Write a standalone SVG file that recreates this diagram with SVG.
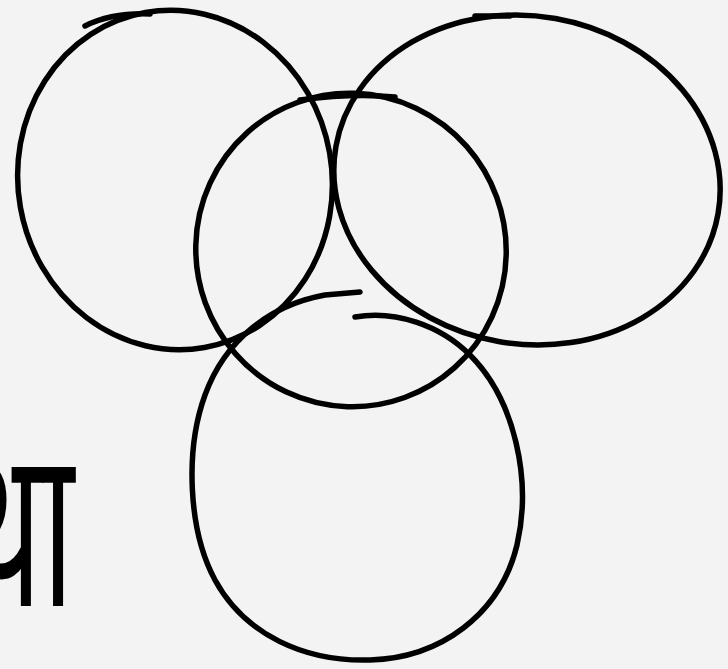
<svg xmlns="http://www.w3.org/2000/svg" width="728" height="669" viewBox="0 0 728 669">
<style>
.s{fill:none;stroke:#000;stroke-width:5.5;stroke-linecap:round;stroke-linejoin:round}
.t{font-family:"Noto Sans","DejaVu Sans",sans-serif;font-size:200px;fill:#000}
</style>
<rect width="728" height="669" fill="#f3f3f3"/>
<g id="circle-top-left">
<ellipse class="s" cx="175" cy="180" rx="157" ry="170" transform="rotate(-10 175 180)"/>
<path class="s" d="M85 26 C105 16 125 13 150 14"/>
</g>
<g id="circle-top-right">
<ellipse class="s" cx="527" cy="180" rx="194" ry="164" transform="rotate(10 527 180)"/>
<path class="s" d="M475 16 L510 16"/>
</g>
<g id="circle-middle">
<ellipse class="s" cx="351" cy="250" rx="155" ry="157" transform="rotate(-20 351 250)"/>
<path class="s" d="M300 100 C330 96 365 94 395 97"/>
</g>
<g id="circle-bottom">
<path class="s" d="M360 292 L325 295 C270 305 225 340 205 395 C185 450 188 530 215 580 C245 635 305 662 370 660 C440 658 500 615 517 545 C532 480 515 400 470 355 C440 325 395 310 355 317"/>
</g>
<text id="label" class="t" x="0" y="0" text-anchor="end" transform="translate(74 606) scale(0.62 1.12)">था</text>
</svg>
